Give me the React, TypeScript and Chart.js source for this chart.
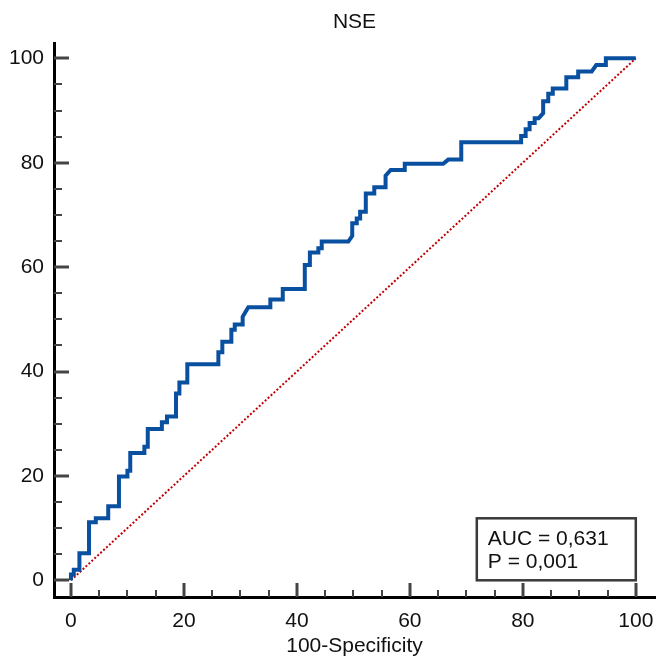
import { useEffect, useRef } from 'react';
import { Chart, registerables } from 'chart.js';

Chart.register(...registerables);

// ROC curve corner points (100-Specificity, Sensitivity)
const fpr = [0, 0, 0.5, 0.5, 1.5, 1.5, 3.2, 3.2, 4.4, 4.4, 6.6, 6.6, 8.5, 8.5, 10.0, 10.0, 10.5, 10.5, 13.0, 13.0, 13.6, 13.6, 16.1, 16.1, 17.0, 17.0, 18.6, 18.6, 19.2, 19.2, 20.6, 20.6, 26.1, 26.1, 26.8, 26.8, 28.4, 28.4, 29.0, 29.0, 30.4, 30.4, 31.4, 35.3, 35.3, 37.5, 37.5, 41.4, 41.4, 42.3, 42.3, 43.8, 43.8, 44.4, 44.4, 49.1, 49.8, 49.8, 50.6, 50.6, 51.2, 51.2, 52.2, 52.2, 53.7, 53.7, 55.7, 55.7, 56.6, 59.1, 59.1, 65.9, 66.8, 69.1, 69.1, 79.7, 79.7, 80.5, 80.5, 81.2, 81.2, 82.1, 82.1, 82.8, 83.6, 83.6, 84.5, 84.5, 85.3, 85.3, 87.7, 87.7, 89.8, 89.8, 92.2, 93.0, 94.7, 94.7, 100];
const tpr = [0, 1.1, 1.1, 2.0, 2.0, 5.2, 5.2, 11.1, 11.1, 11.9, 11.9, 14.2, 14.2, 19.9, 19.9, 21.0, 21.0, 24.4, 24.4, 25.6, 25.6, 29.0, 29.0, 30.3, 30.3, 31.4, 31.4, 35.8, 35.8, 37.9, 37.9, 41.4, 41.4, 43.7, 43.7, 45.7, 45.7, 48.0, 48.0, 49.0, 49.0, 50.5, 52.3, 52.3, 53.8, 53.8, 55.8, 55.8, 60.4, 60.4, 62.8, 62.8, 63.6, 63.6, 64.9, 64.9, 66.0, 68.4, 68.4, 69.3, 69.3, 70.6, 70.6, 74.1, 74.1, 75.3, 75.3, 77.5, 78.6, 78.6, 79.8, 79.8, 80.6, 80.6, 83.9, 83.9, 85.1, 85.1, 86.4, 86.4, 87.6, 87.6, 88.5, 88.5, 89.5, 91.8, 91.8, 93.2, 93.2, 94.2, 94.2, 96.4, 96.4, 97.5, 97.5, 98.7, 98.7, 100, 100];

// Reference (chance) line
const refX = [0, 100];
const refY = [0, 100];

const xMajorTicks = [0, 20, 40, 60, 80, 100];
const yMajorTicks = [0, 20, 40, 60, 80, 100];
const minorStep = 5;

const titleText = 'NSE';
const xTitleText = '100-Specificity';
const aucLabel = 'AUC = 0,631';
const pLabel = 'P = 0,001';

const FONT = '"Liberation Sans", Arial, sans-serif';

const tickPlugin = {
  id: 'inwardTicks',
  afterDatasetsDraw(chart: any) {
    const { ctx, chartArea, scales } = chart;
    const xs = scales.x;
    const ys = scales.y;
    ctx.save();
    ctx.strokeStyle = '#444444';
    ctx.lineCap = 'butt';
    for (let v = 0; v <= 100; v += minorStep) {
      const major = xMajorTicks.includes(v);
      const px = Math.round(xs.getPixelForValue(v));
      ctx.lineWidth = major ? 3 : 2;
      ctx.beginPath();
      ctx.moveTo(px, chartArea.bottom);
      ctx.lineTo(px, chartArea.bottom - (major ? 14 : 7));
      ctx.stroke();
    }
    for (let v = 0; v <= 100; v += minorStep) {
      const major = yMajorTicks.includes(v);
      const py = Math.round(ys.getPixelForValue(v));
      ctx.lineWidth = major ? 3 : 2;
      ctx.beginPath();
      ctx.moveTo(chartArea.left, py);
      ctx.lineTo(chartArea.left + (major ? 15 : 8), py);
      ctx.stroke();
    }
    ctx.restore();
  },
};

const boxPlugin = {
  id: 'aucBox',
  afterDraw(chart: any) {
    const { ctx, scales } = chart;
    const right = scales.x.getPixelForValue(100);
    const bottom = scales.y.getPixelForValue(0);
    const w = 159;
    const h = 62;
    const left = right - w;
    const top = bottom - h;
    ctx.save();
    ctx.fillStyle = '#ffffff';
    ctx.fillRect(left, top, w, h);
    ctx.strokeStyle = '#3a3a3a';
    ctx.lineWidth = 2.5;
    ctx.strokeRect(left, top, w, h);
    ctx.fillStyle = '#111111';
    ctx.font = `21px ${FONT}`;
    ctx.textAlign = 'left';
    ctx.textBaseline = 'alphabetic';
    ctx.fillText(aucLabel, left + 11, top + 27);
    ctx.fillText(pLabel, left + 11, top + 50);
    ctx.restore();
  },
};

export default function App() {
  const canvasRef = useRef<HTMLCanvasElement | null>(null);

  useEffect(() => {
    const canvas = canvasRef.current;
    if (!canvas) return;
    const chart = new Chart(canvas, {
      type: 'line',
      data: {
        datasets: [
          {
            data: fpr.map((x, i) => ({ x, y: tpr[i] })),
            borderColor: '#0a50a0',
            borderWidth: 4,
            pointRadius: 0,
            tension: 0,
            borderJoinStyle: 'miter',
            fill: false,
          },
          {
            data: refX.map((x, i) => ({ x, y: refY[i] })),
            borderColor: '#c00000',
            borderWidth: 2,
            borderDash: [2, 2],
            pointRadius: 0,
            tension: 0,
            fill: false,
          },
        ],
      },
      options: {
        animation: false,
        responsive: false,
        devicePixelRatio: 1,
        layout: { padding: { left: 0, right: 2, top: 0, bottom: 0 } },
        plugins: {
          legend: { display: false },
          tooltip: { enabled: false },
          title: {
            display: true,
            text: titleText,
            fullSize: false,
            color: '#111111',
            font: { family: FONT, size: 21, weight: 'normal' },
            padding: { top: 10, bottom: 8 },
          },
        },
        scales: {
          x: {
            type: 'linear',
            min: -3.0,
            max: 103.4,
            afterBuildTicks: (s: any) => {
              s.ticks = xMajorTicks.map((v) => ({ value: v }));
            },
            afterFit: (s: any) => {
              s.height = 60;
              s.paddingLeft = 0;
              s.paddingRight = 0;
            },
            grid: { display: true, drawOnChartArea: false, drawTicks: false },
            border: { display: true, color: '#000000', width: 3 },
            ticks: {
              color: '#111111',
              font: { family: FONT, size: 21 },
              padding: 12,
              maxRotation: 0,
              autoSkip: false,
              callback: (v: any) => String(v),
            },
            title: {
              display: true,
              text: xTitleText,
              color: '#111111',
              font: { family: FONT, size: 21, lineHeight: 1.05 },
              padding: { top: 0, bottom: 0 },
            },
          },
          y: {
            type: 'linear',
            min: -3.2,
            max: 102.9,
            afterBuildTicks: (s: any) => {
              s.ticks = yMajorTicks.map((v) => ({ value: v }));
            },
            afterFit: (s: any) => {
              s.width = 54;
              s.paddingTop = 0;
              s.paddingBottom = 0;
            },
            grid: { display: true, drawOnChartArea: false, drawTicks: false },
            border: { display: true, color: '#000000', width: 3 },
            ticks: {
              color: '#111111',
              font: { family: FONT, size: 21 },
              padding: 10,
              autoSkip: false,
              callback: (v: any) => String(v),
            },
          },
        },
      },
      plugins: [tickPlugin, boxPlugin],
    } as any);
    return () => chart.destroy();
  }, []);

  return (
    <div style={{ position: 'absolute', left: 0, top: 0, width: 657, height: 657, background: '#ffffff' }}>
      <canvas ref={canvasRef} width={657} height={657} />
    </div>
  );
}
